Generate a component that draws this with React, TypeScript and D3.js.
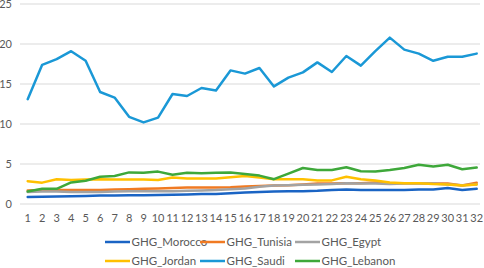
import React from "react";
import * as d3 from "d3";

const categories = Array.from({ length: 32 }, (_, i) => String(i + 1));
const yTicks = [0, 5, 10, 15, 20, 25];

const morocco = [0.87, 0.9, 0.95, 0.97, 1.0, 1.05, 1.05, 1.08, 1.1, 1.12, 1.15, 1.2, 1.25, 1.25, 1.35, 1.45, 1.5, 1.55, 1.6, 1.6, 1.65, 1.75, 1.8, 1.75, 1.75, 1.75, 1.75, 1.8, 1.8, 2.0, 1.75, 1.9];
const tunisia = [1.7, 1.75, 1.75, 1.75, 1.75, 1.75, 1.8, 1.85, 1.9, 1.95, 2.0, 2.05, 2.05, 2.05, 2.1, 2.2, 2.25, 2.3, 2.35, 2.45, 2.55, 2.55, 2.6, 2.6, 2.7, 2.6, 2.6, 2.6, 2.55, 2.55, 2.3, 2.65];
const egypt = [1.5, 1.55, 1.55, 1.5, 1.5, 1.5, 1.55, 1.6, 1.6, 1.6, 1.6, 1.65, 1.7, 1.75, 1.85, 1.95, 2.15, 2.3, 2.35, 2.4, 2.45, 2.5, 2.6, 2.55, 2.55, 2.5, 2.55, 2.6, 2.55, 2.45, 2.35, 2.45];
const jordan = [2.85, 2.67, 3.1, 3.0, 3.05, 3.1, 3.05, 3.05, 3.05, 3.0, 3.3, 3.2, 3.2, 3.2, 3.35, 3.5, 3.3, 3.1, 3.1, 3.1, 2.95, 2.95, 3.4, 3.1, 2.95, 2.7, 2.6, 2.6, 2.5, 2.45, 2.3, 2.45];
const saudi = [13.1, 17.4, 18.1, 19.1, 17.9, 14.0, 13.3, 10.9, 10.2, 10.8, 13.75, 13.5, 14.5, 14.2, 16.7, 16.3, 17.0, 14.7, 15.8, 16.45, 17.7, 16.5, 18.5, 17.3, 19.1, 20.8, 19.3, 18.8, 17.9, 18.4, 18.4, 18.8];
const lebanon = [1.55, 1.9, 1.9, 2.7, 2.9, 3.4, 3.5, 3.95, 3.9, 4.05, 3.65, 3.9, 3.85, 3.9, 3.95, 3.75, 3.55, 3.1, 3.8, 4.5, 4.25, 4.25, 4.6, 4.1, 4.05, 4.25, 4.5, 4.9, 4.7, 4.9, 4.35, 4.55];

const seriesNames = ["GHG_Morocco", "GHG_Tunisia", "GHG_Egypt", "GHG_Jordan", "GHG_Saudi", "GHG_Lebanon"];
const seriesValues = [morocco, tunisia, egypt, jordan, saudi, lebanon];
const colors = ["#1a64c4", "#f07a22", "#a3a3a3", "#ffc000", "#1a98d6", "#3ea83a"];

const W = 484;
const H = 268;
const FONT = "Lato, 'Liberation Sans', sans-serif";

export default function App() {
  const x = d3
    .scalePoint<string>()
    .domain(categories)
    .range([27.7, 476.7]);
  const y = d3.scaleLinear().domain([0, 25]).range([204, 4]);
  const line = d3
    .line<number>()
    .x((_, i) => x(categories[i]) as number)
    .y((d) => y(d));

  const legendCols = [105, 200, 295];
  const legendRows = [242, 261];

  return (
    <svg
      width={W}
      height={H}
      style={{ position: "absolute", left: 0, top: 0, background: "#fff" }}
    >
      {yTicks.map((t) => (
        <g key={t}>
          <line x1={20} x2={480} y1={y(t)} y2={y(t)} stroke="#d9d9d9" strokeWidth={1} />
          <text
            x={12}
            y={y(t)}
            dy="0.35em"
            textAnchor="end"
            fontSize={11}
            fill="#595959"
            fontFamily={FONT}
          >
            {t}
          </text>
        </g>
      ))}
      {categories.map((c) => (
        <text
          key={c}
          x={x(c) as number}
          y={218}
          dy="0.35em"
          textAnchor="middle"
          fontSize={11}
          fill="#595959"
          fontFamily={FONT}
        >
          {c}
        </text>
      ))}
      {seriesValues.map((vals, si) => (
        <path
          key={seriesNames[si]}
          d={line(vals) || ""}
          fill="none"
          stroke={colors[si]}
          strokeWidth={2.5}
          strokeLinejoin="round"
          strokeLinecap="round"
        />
      ))}
      {seriesNames.map((name, si) => {
        const lx = legendCols[si % 3];
        const ly = legendRows[Math.floor(si / 3)];
        return (
          <g key={name}>
            <line x1={lx} x2={lx + 25} y1={ly} y2={ly} stroke={colors[si]} strokeWidth={2.5} />
            <text
              x={lx + 26.5}
              y={ly}
              dy="0.35em"
              fontSize={11.5}
              fill="#595959"
              fontFamily={FONT}
            >
              {name}
            </text>
          </g>
        );
      })}
    </svg>
  );
}
